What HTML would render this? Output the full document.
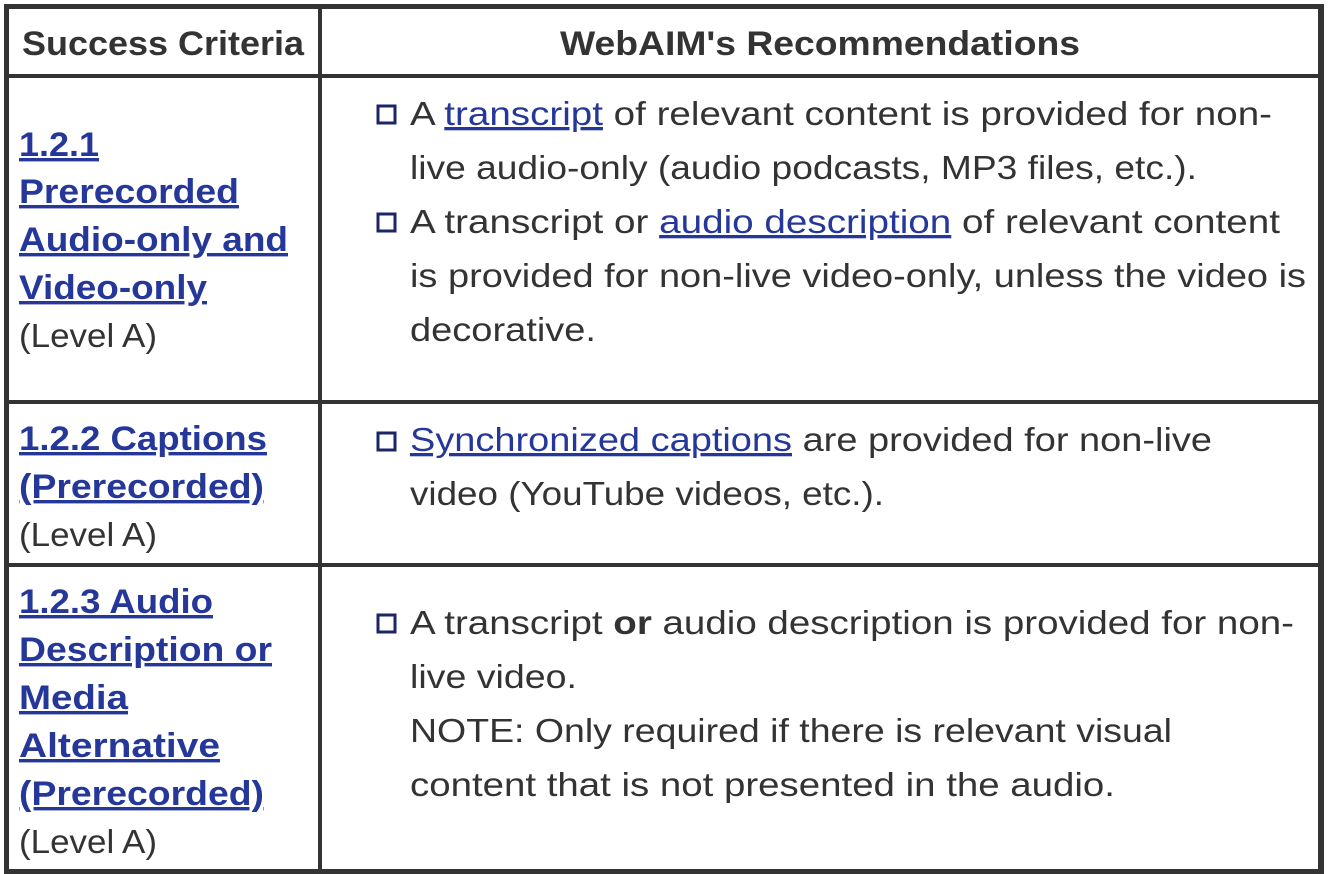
<!DOCTYPE html>
<html><head><meta charset="utf-8"><style>
html,body{margin:0;padding:0;background:#fff;width:1330px;height:874px;overflow:hidden}
svg{display:block}
.t{font-family:"Liberation Sans",sans-serif;font-size:33px;fill:#333}
.h{font-family:"Liberation Sans",sans-serif;font-size:34px;font-weight:bold;fill:#333}
.l{font-family:"Liberation Sans",sans-serif;font-size:34px;font-weight:bold;fill:#25389a;text-decoration:underline}
.a{fill:#25389a;text-decoration:underline}
</style></head><body>
<svg width="1330" height="874">
<rect x="0" y="0" width="1330" height="874" fill="#fff"/>
<g fill="#333">
<rect x="4" y="4" width="1320" height="5"/>
<rect x="4" y="869" width="1320" height="5"/>
<rect x="4" y="4" width="5" height="870"/>
<rect x="1318" y="4" width="6" height="870"/>
<rect x="318" y="4" width="4" height="870"/>
<rect x="4" y="74" width="1320" height="4"/>
<rect x="4" y="400" width="1320" height="4"/>
<rect x="4" y="563" width="1320" height="4"/>
</g>
<text class="h" x="22" y="55" textLength="282" lengthAdjust="spacingAndGlyphs">Success Criteria</text>
<text class="h" x="560" y="55" textLength="520" lengthAdjust="spacingAndGlyphs">WebAIM's Recommendations</text>

<g>
<text class="l" x="19" y="156" textLength="80" lengthAdjust="spacingAndGlyphs">1.2.1</text>
<text class="l" x="19" y="203" textLength="220" lengthAdjust="spacingAndGlyphs">Prerecorded</text>
<text class="l" x="19" y="251" textLength="269" lengthAdjust="spacingAndGlyphs">Audio-only and</text>
<text class="l" x="19" y="299" textLength="188" lengthAdjust="spacingAndGlyphs">Video-only</text>
</g>
<text class="t" x="19" y="347" textLength="138" lengthAdjust="spacingAndGlyphs">(Level A)</text>

<g>
<text class="l" x="19" y="450" textLength="248" lengthAdjust="spacingAndGlyphs">1.2.2 Captions</text>
<text class="l" x="19" y="498" textLength="245" lengthAdjust="spacingAndGlyphs">(Prerecorded)</text>
</g>
<text class="t" x="19" y="546" textLength="138" lengthAdjust="spacingAndGlyphs">(Level A)</text>

<g>
<text class="l" x="19" y="613" textLength="194" lengthAdjust="spacingAndGlyphs">1.2.3 Audio</text>
<text class="l" x="19" y="661" textLength="253" lengthAdjust="spacingAndGlyphs">Description or</text>
<text class="l" x="19" y="709" textLength="109" lengthAdjust="spacingAndGlyphs">Media</text>
<text class="l" x="19" y="757" textLength="201" lengthAdjust="spacingAndGlyphs">Alternative</text>
<text class="l" x="19" y="805" textLength="245" lengthAdjust="spacingAndGlyphs">(Prerecorded)</text>
</g>
<text class="t" x="19" y="853" textLength="138" lengthAdjust="spacingAndGlyphs">(Level A)</text>

<g fill="#fff" stroke="#1e2566" stroke-width="3">
<rect x="378" y="106" width="17" height="17"/>
<rect x="378" y="214" width="17" height="17"/>
<rect x="378" y="433" width="17" height="17"/>
<rect x="378" y="615" width="17" height="17"/>
</g>

<g>
<text class="t" x="410" y="125" textLength="862" lengthAdjust="spacingAndGlyphs">A <tspan class="a">transcript</tspan> of relevant content is provided for non-</text>
<text class="t" x="410" y="179" textLength="787" lengthAdjust="spacingAndGlyphs">live audio-only (audio podcasts, MP3 files, etc.).</text>
<text class="t" x="410" y="233" textLength="870" lengthAdjust="spacingAndGlyphs">A transcript or <tspan class="a">audio description</tspan> of relevant content</text>
<text class="t" x="410" y="287" textLength="896" lengthAdjust="spacingAndGlyphs">is provided for non-live video-only, unless the video is</text>
<text class="t" x="410" y="341" textLength="186" lengthAdjust="spacingAndGlyphs">decorative.</text>
</g>
<g>
<text class="t" x="410" y="451" textLength="802" lengthAdjust="spacingAndGlyphs"><tspan class="a">Synchronized captions</tspan> are provided for non-live</text>
<text class="t" x="410" y="505" textLength="474" lengthAdjust="spacingAndGlyphs">video (YouTube videos, etc.).</text>
</g>
<g>
<text class="t" x="410" y="634" textLength="884" lengthAdjust="spacingAndGlyphs">A transcript <tspan font-weight="bold">or</tspan> audio description is provided for non-</text>
<text class="t" x="410" y="688" textLength="167" lengthAdjust="spacingAndGlyphs">live video.</text>
<text class="t" x="410" y="742" textLength="762" lengthAdjust="spacingAndGlyphs">NOTE: Only required if there is relevant visual</text>
<text class="t" x="410" y="796" textLength="705" lengthAdjust="spacingAndGlyphs">content that is not presented in the audio.</text>
</g>
</svg>
</body></html>
